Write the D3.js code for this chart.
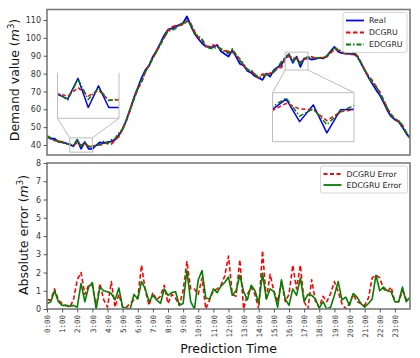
<!DOCTYPE html>
<html><head><meta charset="utf-8">
<script src="https://cdn.jsdelivr.net/npm/d3@7"></script>
<style>body{margin:0;background:#fff}</style>
</head><body><svg id="c" width="420" height="358" xmlns="http://www.w3.org/2000/svg"></svg>
<script>
// ---- data (15-minute steps, 0:00 .. 24:00) ----
const tickLabels = ["0:00","1:00","2:00","3:00","4:00","5:00","6:00","7:00","8:00","9:00","10:00","11:00",
  "12:00","13:00","14:00","15:00","16:00","17:00","18:00","19:00","20:00","21:00","22:00","23:00"];
const real = [44.8,43.5,43.6,41.8,41.5,41.0,40.2,39.4,43.0,37.9,
  41.7,37.9,37.9,39.8,41.5,41.0,41.6,42.0,43.0,45.5,
  49.0,54.0,60.0,66.5,72.0,77.5,82.0,84.5,89.5,93.0,
  97.0,101.5,104.6,105.3,106.3,107.3,108.3,112.0,107.0,102.5,
  99.5,97.0,95.2,94.8,95.0,96.0,92.5,91.0,89.6,93.0,
  89.5,85.5,84.5,81.5,80.5,78.5,77.5,76.5,80.0,78.3,
  82.0,83.5,85.0,88.6,90.7,86.1,89.5,83.8,88.5,88.6,
  87.8,88.2,88.8,88.5,89.8,92.5,95.0,92.3,91.5,91.2,
  91.1,91.0,89.8,86.0,82.0,78.0,74.5,71.0,68.0,64.0,
  59.5,56.0,54.2,53.0,50.0,46.5,43.8];
const dcgru = [44.3,44.0,42.5,42.3,41.8,40.8,40.3,39.9,41.4,39.9,
  40.9,39.2,39.2,39.7,40.1,40.5,41.5,40.5,42.9,44.7,
  48.9,53.9,59.7,66.0,71.4,75.1,81.0,84.7,88.6,92.5,
  96.3,100.2,104.3,106.1,106.9,107.1,107.3,109.4,108.1,103.6,
  100.3,98.7,95.2,95.3,96.0,94.9,93.8,92.8,92.5,92.2,
  90.2,88.2,84.5,82.3,81.7,79.3,77.5,79.7,79.5,80.2,
  81.0,83.1,83.5,88.4,89.8,88.7,88.5,86.3,88.1,88.6,
  89.4,88.6,88.7,89.2,89.4,91.6,93.5,93.2,91.8,91.2,
  91.4,90.2,90.2,86.3,82.2,78.6,76.2,72.85,69.7,65.1,
  60.45,57.2,54.6,53.4,51.0,47.05,44.2];
const edcgru = [45.1,43.9,42.6,42.2,41.3,40.8,40.5,39.2,42.9,39.3,
  41.3,39.1,39.35,39.8,40.3,42.0,40.65,42.85,43.5,46.65,
  48.9,53.95,60.0,65.7,71.45,76.0,80.9,84.9,88.75,92.5,
  96.7,100.4,103.85,104.4,105.35,107.1,108.0,109.9,107.4,102.5,
  101.1,99.1,95.8,94.25,93.9,95.1,93.75,92.45,91.35,93.75,
  90.5,87.35,85.45,82.0,81.8,79.5,77.8,78.45,79.45,79.4,
  81.05,83.4,86.6,89.15,90.9,87.2,88.75,85.5,88.1,89.4,
  88.55,88.75,88.75,88.9,89.8,92.4,94.25,93.8,92.0,91.85,
  91.3,91.85,90.45,86.3,82.1,78.3,75.05,72.85,69.0,65.2,
  60.5,56.95,54.6,53.4,51.2,46.9,44.45];
const dcgruErr = [0.5,0.5,1.1,0.5,0.3,0.2,0.1,0.5,1.6,2.0,
  0.8,1.3,1.3,0.1,1.4,0.5,0.1,1.5,0.1,0.8,
  0.1,0.1,0.3,0.5,0.6,2.4,1.0,0.2,0.9,0.5,
  0.7,1.3,0.3,0.8,0.6,0.2,1.0,2.6,1.1,1.1,
  0.8,1.7,0.0,0.5,1.0,1.1,1.3,1.8,2.9,0.8,
  0.7,2.7,0.0,0.8,1.2,0.8,0.0,3.2,0.5,1.9,
  1.0,0.4,1.5,0.4,0.8,2.4,1.1,2.4,0.4,0.0,
  1.6,0.4,0.1,0.7,0.4,0.85,1.5,0.95,0.3,0.0,
  0.3,0.8,0.4,0.3,0.2,0.6,1.7,1.85,1.7,1.1,
  0.95,1.2,0.4,0.4,1.0,0.55,0.4];
const edcgruErr = [0.3,0.4,1.0,0.4,0.2,0.2,0.15,0.2,0.1,1.4,
  0.4,1.2,1.45,0.0,1.2,1.0,0.95,0.85,0.5,1.15,
  0.1,0.05,0.0,0.8,0.55,1.5,1.1,0.4,0.75,0.5,
  0.3,1.1,0.75,0.9,0.95,0.2,0.3,2.1,0.4,0.0,
  1.6,2.1,0.6,0.55,1.1,0.9,1.25,1.45,1.75,0.75,
  1.0,1.85,0.95,0.5,1.3,1.0,0.3,1.95,0.55,1.1,
  0.95,0.1,1.6,0.55,0.2,1.1,0.75,1.7,0.4,0.8,
  0.75,0.55,0.05,0.4,0.0,0.1,0.75,1.5,0.5,0.65,
  0.2,0.85,0.65,0.3,0.1,0.3,0.55,1.85,1.0,1.2,
  1.0,0.95,0.4,0.4,1.2,0.4,0.65];
const demandTicks = [40,50,60,70,80,90,100,110];
const errorTicks = [0,1,2,3,4,5,6,7,8];
const topLegend = ["Real","DCGRU","EDCGRU"];
const botLegend = ["DCGRU Error","EDCGRU Error"];
const inset1Range = {x:[6,12], y:[36,44]};
const inset2Range = {x:[63,69], y:[82,92]};

// ---- drawing ----
const svg = d3.select("#c");
const L = 47, R = 410;
const TT = 9.5, TB = 155, BT = 163, BB = 309;
const x = d3.scaleLinear().domain([0, real.length - 1]).range([L, R]);
const yTop = d3.scaleLinear().domain([34.4, 115.9]).range([TB, TT]);
const yBot = d3.scaleLinear().domain([0, 8]).range([BB, BT]);

const BLUE = "#0000ff", RED = "#ff0000", GREEN = "#008000";
const styles = {
  real: {stroke: BLUE, dash: null, w: 1.8},
  dcgru: {stroke: RED, dash: "4.5,2.5", w: 1.8},
  edcgru: {stroke: GREEN, dash: "5,2,1.5,2", w: 1.8}
};

const defs = svg.append("defs");
function clip(id, x0, y0, w, h) {
  defs.append("clipPath").attr("id", id).append("rect").attr("x", x0).attr("y", y0).attr("width", w).attr("height", h);
}
clip("cTop", L, TT, R - L, TB - TT);
clip("cBot", L, BT, R - L, BB - BT);

function drawLine(g, data, xs, ys, st) {
  const line = d3.line().x((d, i) => xs(i)).y(d => ys(d));
  g.append("path").datum(data).attr("d", line).attr("fill", "none")
    .attr("stroke", st.stroke).attr("stroke-width", st.w)
    .attr("stroke-dasharray", st.dash).attr("stroke-linejoin", "round");
}

// top panel
const gTop = svg.append("g").attr("clip-path", "url(#cTop)");
drawLine(gTop, real, x, yTop, styles.real);
drawLine(gTop, dcgru, x, yTop, styles.dcgru);
drawLine(gTop, edcgru, x, yTop, styles.edcgru);

// bottom panel
const gBot = svg.append("g").attr("clip-path", "url(#cBot)");
drawLine(gBot, dcgruErr, x, yBot, {stroke: RED, dash: "4.5,2.5", w: 1.6});
drawLine(gBot, edcgruErr, x, yBot, {stroke: GREEN, dash: null, w: 1.6});

// insets
const GRAY = "#bdbdbd";
function inset(id, rng, box, sides, connectors) {
  const xi = d3.scaleLinear().domain(rng.x).range([box.x0, box.x1]);
  const yi = d3.scaleLinear().domain(rng.y).range([box.y1, box.y0]);
  const rx0 = x(rng.x[0]), rx1 = x(rng.x[1]), ry0 = yTop(rng.y[1]), ry1 = yTop(rng.y[0]);
  svg.append("rect").attr("x", rx0).attr("y", ry0).attr("width", rx1 - rx0).attr("height", ry1 - ry0)
    .attr("fill", "none").attr("stroke", GRAY).attr("stroke-width", 1);
  const pts = {
    itl: [box.x0, box.y0], itr: [box.x1, box.y0], ibl: [box.x0, box.y1], ibr: [box.x1, box.y1],
    btl: [rx0, ry0], btr: [rx1, ry0], bbl: [rx0, ry1], bbr: [rx1, ry1]
  };
  connectors.forEach(([a, b]) => {
    svg.append("line").attr("x1", pts[a][0]).attr("y1", pts[a][1]).attr("x2", pts[b][0]).attr("y2", pts[b][1])
      .attr("stroke", GRAY).attr("stroke-width", 1);
  });
  svg.append("rect").attr("x", box.x0).attr("y", box.y0).attr("width", box.x1 - box.x0).attr("height", box.y1 - box.y0)
    .attr("fill", "#fff");
  clip(id, box.x0, box.y0, box.x1 - box.x0, box.y1 - box.y0);
  const g = svg.append("g").attr("clip-path", `url(#${id})`);
  drawLine(g, real, xi, yi, {stroke: BLUE, dash: null, w: 1.5});
  drawLine(g, dcgru, xi, yi, {stroke: RED, dash: "4,2.5", w: 1.5});
  drawLine(g, edcgru, xi, yi, {stroke: GREEN, dash: "5,2,1.5,2", w: 1.5});
  const s = {
    top: [box.x0, box.y0, box.x1, box.y0], bottom: [box.x0, box.y1, box.x1, box.y1],
    left: [box.x0, box.y0, box.x0, box.y1], right: [box.x1, box.y0, box.x1, box.y1]
  };
  sides.forEach(k => svg.append("line").attr("x1", s[k][0]).attr("y1", s[k][1]).attr("x2", s[k][2]).attr("y2", s[k][3])
    .attr("stroke", GRAY).attr("stroke-width", 1));
}
inset("cIn1", inset1Range, {x0: 57.5, x1: 119, y0: 72.7, y1: 118.3}, ["left", "right", "bottom"], [["ibl", "btl"], ["ibr", "btr"]]);
inset("cIn2", inset2Range, {x0: 272.5, x1: 354, y0: 92.7, y1: 141.7}, ["left", "right", "bottom", "top"], [["itl", "bbl"], ["itr", "bbr"]]);

// frames
const FR = "#7a7a7a";
[[TT, TB], [BT, BB]].forEach(([t, b]) => {
  svg.append("rect").attr("x", L).attr("y", t).attr("width", R - L).attr("height", b - t)
    .attr("fill", "none").attr("stroke", FR).attr("stroke-width", 1.6);
});

// axes
function styleAxis(g) {
  g.select(".domain").remove();
  g.selectAll(".tick line").attr("stroke", "#333").attr("stroke-width", 0.8);
  g.selectAll(".tick text").attr("fill", "#333").style("font-family", "DejaVu Sans, sans-serif").style("font-size", "8px");
}
svg.append("g").attr("transform", `translate(${L},0)`)
  .call(d3.axisLeft(yTop).tickValues(demandTicks).tickSize(3.5).tickPadding(2.5)).call(styleAxis);
svg.append("g").attr("transform", `translate(${L},0)`)
  .call(d3.axisLeft(yBot).tickValues(errorTicks).tickSize(3.5).tickPadding(2.5)).call(styleAxis);
const xAxis = svg.append("g").attr("transform", `translate(0,${BB})`)
  .call(d3.axisBottom(x).tickValues(tickLabels.map((t, i) => i * 4)).tickFormat((d, i) => tickLabels[i]).tickSize(3.5))
  .call(styleAxis);
xAxis.selectAll(".tick text")
  .attr("x", 0).attr("y", 0).attr("dy", "0.35em")
  .attr("transform", "translate(0,6) rotate(-90)")
  .attr("text-anchor", "end")
  .style("font-family", "DejaVu Sans Mono, monospace").style("font-size", "7.5px");

// axis titles
function yTitle(cx, cy, label) {
  const t = svg.append("text").attr("transform", `translate(${cx},${cy}) rotate(-90)`)
    .attr("text-anchor", "middle").attr("dy", "0.35em")
    .style("font-family", "DejaVu Sans, sans-serif").style("font-size", "12.5px").attr("fill", "#111");
  t.append("tspan").text(label + " (");
  t.append("tspan").text("m").style("font-style", "italic");
  t.append("tspan").text("3").attr("baseline-shift", "super").style("font-size", "8.5px");
  t.append("tspan").text(")");
}
yTitle(15, 80, "Demand value");
yTitle(24, 235, "Absolute error");
svg.append("text").attr("x", (L + R) / 2).attr("y", 353).attr("text-anchor", "middle")
  .style("font-family", "DejaVu Sans, sans-serif").style("font-size", "12.5px").attr("fill", "#111")
  .text("Prediction Time");

// legends
function legend(x0, y0, w, h, items, st, textX, step) {
  svg.append("rect").attr("x", x0).attr("y", y0).attr("width", w).attr("height", h).attr("rx", 2)
    .attr("fill", "#fff").attr("fill-opacity", 0.85).attr("stroke", "#cccccc").attr("stroke-width", 0.8);
  items.forEach((lab, i) => {
    const yy = y0 + 8 + i * step;
    svg.append("line").attr("x1", x0 + 3).attr("x2", x0 + 21).attr("y1", yy).attr("y2", yy)
      .attr("stroke", st[i].stroke).attr("stroke-width", 1.8).attr("stroke-dasharray", st[i].dash);
    svg.append("text").attr("x", x0 + textX).attr("y", yy).attr("dy", "0.35em")
      .style("font-family", "DejaVu Sans, sans-serif").style("font-size", "7.8px").attr("fill", "#222").text(lab);
  });
}
legend(343, 12.5, 64, 40, topLegend, [styles.real, styles.dcgru, styles.edcgru], 26, 12);
legend(320.5, 166, 87, 27, botLegend, [{stroke: RED, dash: "4,2.5"}, {stroke: GREEN, dash: null}], 26, 11);
</script></body></html>
